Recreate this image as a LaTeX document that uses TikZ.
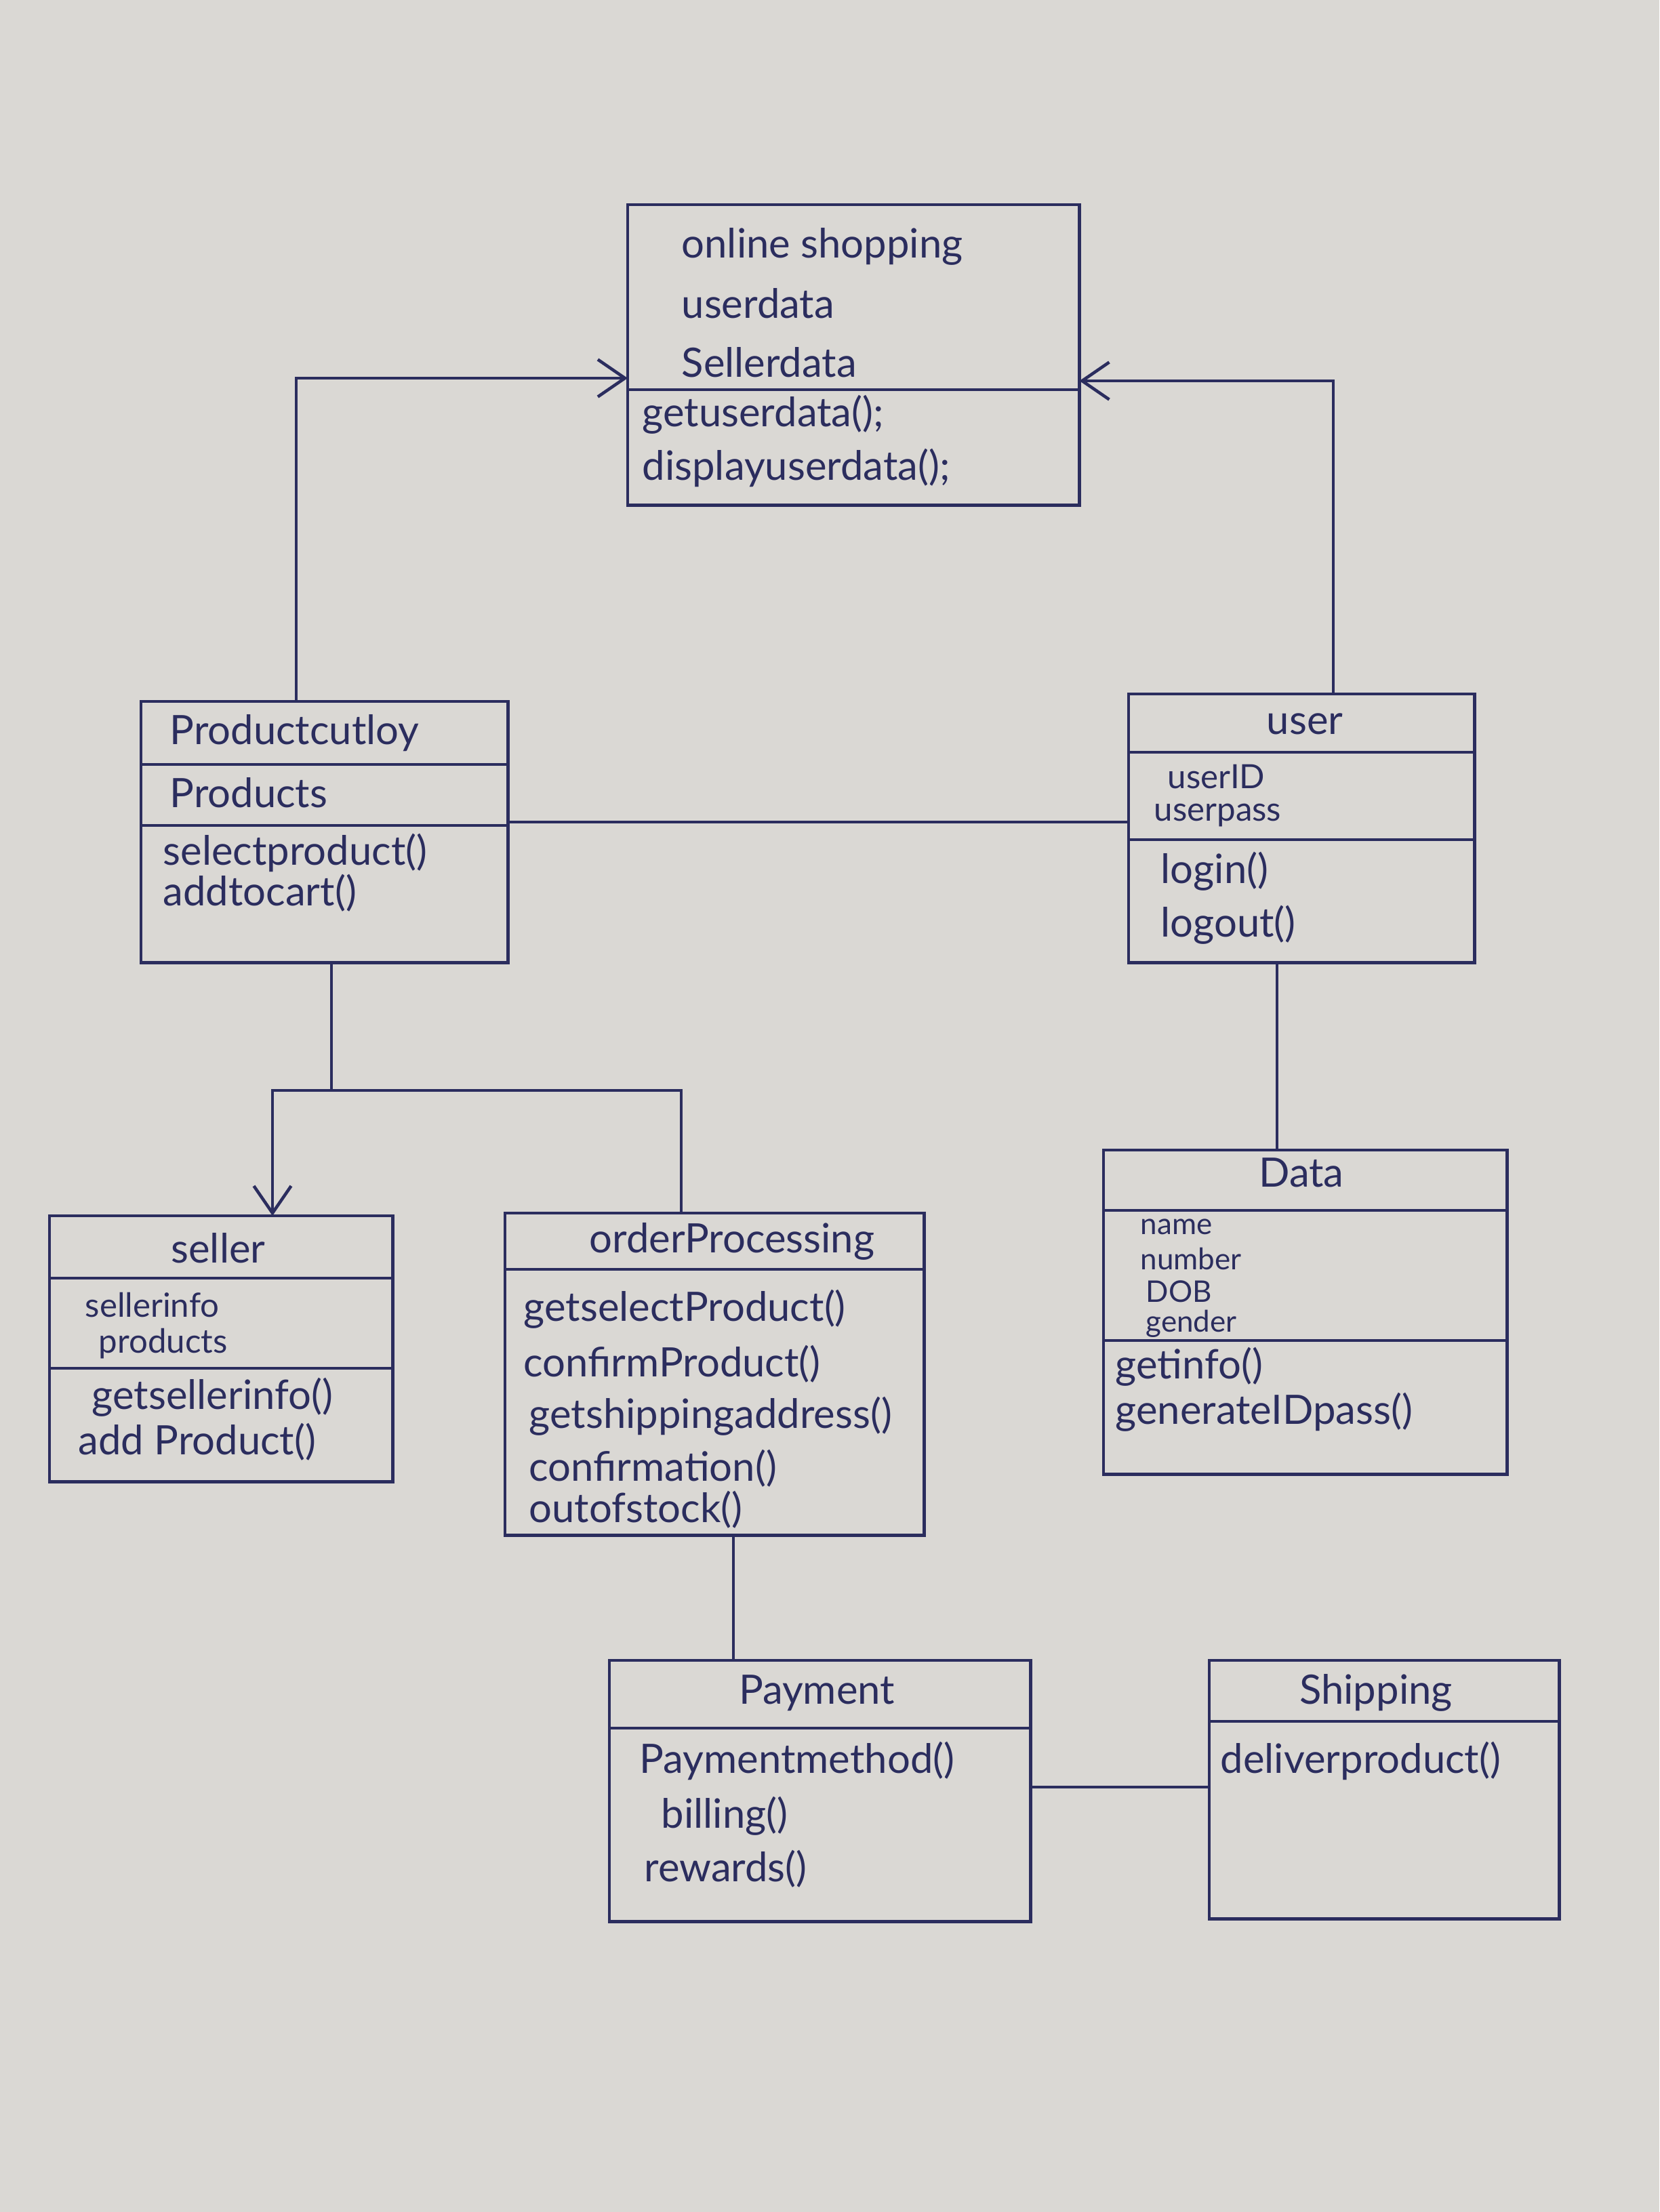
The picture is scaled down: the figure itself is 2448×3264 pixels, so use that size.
\documentclass[tikz,border=0pt]{standalone}
\usepackage{fontspec}
\setmainfont{Lato}
\usetikzlibrary{arrows.meta,calc}
\definecolor{ink}{HTML}{2B2D5E}
\definecolor{paper}{HTML}{DAD8D4}
\begin{document}
\begin{tikzpicture}[x=0.01cm,y=-0.01cm,
  cls/.style={draw=ink, line width=1.3pt, inner sep=0pt, outer sep=0pt, anchor=north west},
  divline/.style={draw=ink, line width=1.3pt},
  conn/.style={draw=ink, line width=1.3pt},
  arr/.style={conn, -{Straight Barb[length=0.4cm,width=0.55cm,line width=1.3pt]}},
  txt/.style={text=ink, font=\fontsize{17}{20}\selectfont, inner sep=0pt, anchor=west},
  smalltxt/.style={txt, font=\fontsize{14}{16}\selectfont},
  tinytxt/.style={txt, font=\fontsize{12.5}{14}\selectfont},
  ttl/.style={txt, anchor=center}]
\useasboundingbox (0,0) rectangle (2448,3264);
\fill[paper] (0,0) rectangle (2448,3264);

% ---------- class boxes ----------
\node[cls, minimum width=6.66cm, minimum height=4.43cm] (os) at (926,302) {};
\node[cls, minimum width=5.41cm, minimum height=3.85cm] (pc) at (208,1035) {};
\node[cls, minimum width=5.10cm, minimum height=3.96cm] (us) at (1665,1024) {};
\node[cls, minimum width=5.95cm, minimum height=4.78cm] (da) at (1628,1697) {};
\node[cls, minimum width=5.06cm, minimum height=3.92cm] (se) at (73,1794) {};
\node[cls, minimum width=6.18cm, minimum height=4.75cm] (op) at (745,1790) {};
\node[cls, minimum width=6.21cm, minimum height=3.85cm] (pa) at (899,2450) {};
\node[cls, minimum width=5.16cm, minimum height=3.81cm] (sh) at (1784,2450) {};

% ---------- compartment dividers ----------
\draw[divline] (os.west |- 0,575) -- (os.east |- 0,575);
\draw[divline] (pc.west |- 0,1128) -- (pc.east |- 0,1128);
\draw[divline] (pc.west |- 0,1218) -- (pc.east |- 0,1218);
\draw[divline] (us.west |- 0,1110) -- (us.east |- 0,1110);
\draw[divline] (us.west |- 0,1239) -- (us.east |- 0,1239);
\draw[divline] (da.west |- 0,1786) -- (da.east |- 0,1786);
\draw[divline] (da.west |- 0,1978) -- (da.east |- 0,1978);
\draw[divline] (se.west |- 0,1886) -- (se.east |- 0,1886);
\draw[divline] (se.west |- 0,2019) -- (se.east |- 0,2019);
\draw[divline] (op.west |- 0,1873) -- (op.east |- 0,1873);
\draw[divline] (pa.west |- 0,2550) -- (pa.east |- 0,2550);
\draw[divline] (sh.west |- 0,2540) -- (sh.east |- 0,2540);

% ---------- texts ----------
\node[txt] (os1) at (1005,364) {online shopping};
\node[txt] (os2) at (1005,448) {userdata};
\node[txt] (os3) at (1005,535) {Sellerdata};
\node[txt] (os4) at (947,612) {getuserdata();};
\node[txt] (os5) at (947,690) {displayuserdata();};

\node[txt] (pc1) at (250,1082) {Productcutloy};
\node[txt] (pc2) at (250,1170) {Products};
\node[txt] (pc3) at (240,1258) {selectproduct()};
\node[txt] (pc4) at (240,1318) {addtocart()};

\node[ttl] (us1) at (1925,1068) {user};
\node[smalltxt] (us2) at (1722,1146) {userID};
\node[smalltxt] (us3) at (1702,1203) {userpass};
\node[txt] (us4) at (1712,1286) {login()};
\node[txt] (us5) at (1712,1365) {logout()};

\node[ttl] (da1) at (1920,1730) {Data};
\node[tinytxt] (da2) at (1682,1810) {name};
\node[tinytxt] (da3) at (1682,1857) {number};
\node[tinytxt] (da4) at (1690,1906) {DOB};
\node[tinytxt] (da5) at (1690,1953) {gender};
\node[txt] (da6) at (1645,2017) {getinfo()};
\node[txt] (da7) at (1645,2084) {generateIDpass()};

\node[ttl] (se1) at (322,1842) {seller};
\node[smalltxt] (se2) at (125,1926) {sellerinfo};
\node[smalltxt] (se3) at (145,1983) {products};
\node[txt] (se4) at (135,2062) {getsellerinfo()};
\node[txt] (se5) at (115,2128) {add Product()};

\node[ttl] (op1) at (1080,1832) {orderProcessing};
\node[txt] (op2) at (772,1932) {getselectProduct()};
\node[txt] (op3) at (772,2013) {confirmProduct()};
\node[txt] (op4) at (780,2090) {getshippingaddress()};
\node[txt] (op5) at (780,2167) {confirmation()};
\node[txt] (op6) at (780,2228) {outofstock()};

\node[ttl] (pa1) at (1205,2498) {Payment};
\node[txt] (pa2) at (943,2598) {Paymentmethod()};
\node[txt] (pa3) at (975,2680) {billing()};
\node[txt] (pa4) at (950,2758) {rewards()};

\node[ttl] (sh1) at (2030,2498) {Shipping};
\node[txt] (sh2) at (1800,2598) {deliverproduct()};

% ---------- connectors ----------
\draw[arr] (pc.north -| 437,0) |- (os.west |- 0,558);
\draw[arr] (us.north -| 1967,0) |- (os.east |- 0,562);
\draw[conn] (pc.east |- 0,1213) -- (us.west |- 0,1213);
\coordinate (split) at (489,1609);
\draw[conn] (pc.south -| split) -- (split);
\draw[arr] (op.north -| 1005,0) -- (1005,1609) -- (402,1609) -- (se.north -| 402,0);
\draw[conn] (us.south -| 1884,0) -- (da.north -| 1884,0);
\draw[conn] (op.south -| 1082,0) -- (pa.north -| 1082,0);
\draw[conn] (pa.east |- 0,2637) -- (sh.west |- 0,2637);
\end{tikzpicture}
\end{document}
